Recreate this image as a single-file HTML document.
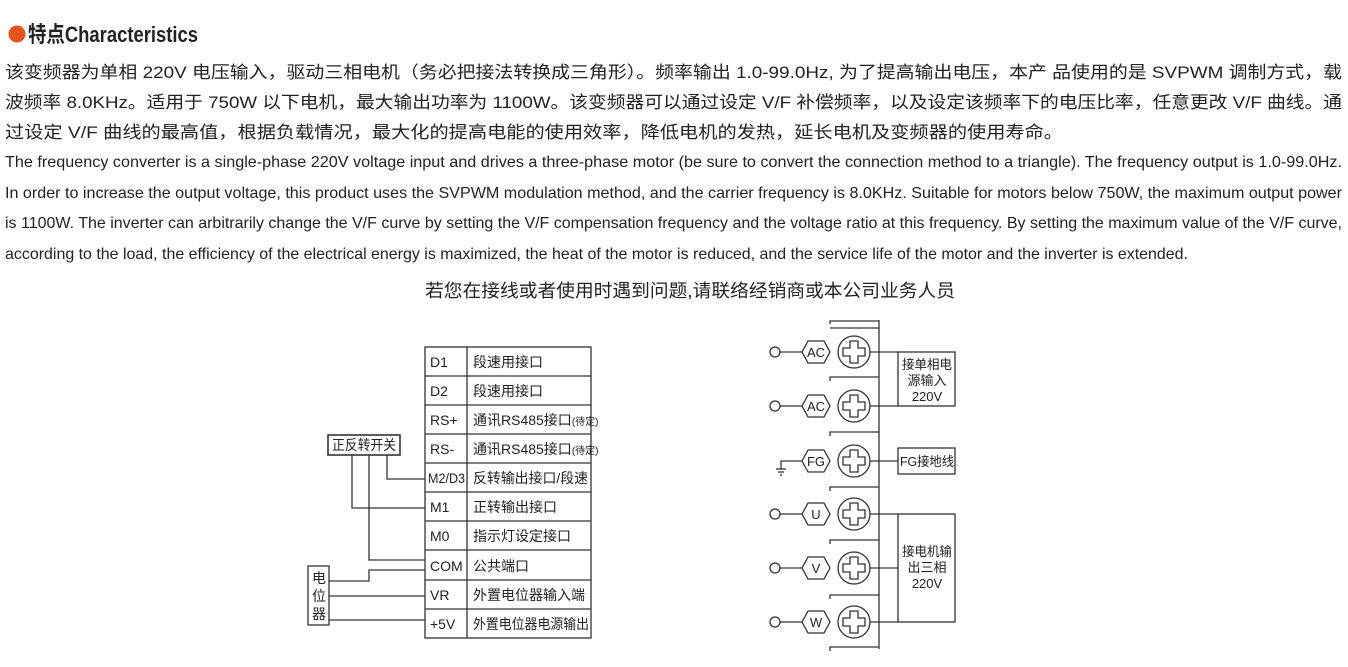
<!DOCTYPE html>
<html><head><meta charset="utf-8"><style>
html,body{margin:0;padding:0;background:#fff;width:1348px;height:667px;overflow:hidden}
svg{display:block}
.c{font-family:"Liberation Sans","Noto Sans CJK SC",sans-serif;fill:#222}
</style></head><body>
<svg width="1348" height="667" viewBox="0 0 1348 667" xmlns="http://www.w3.org/2000/svg">
<circle cx="17" cy="34" r="8.5" fill="#e8521c"/>
<text class="c" x="28" y="42" font-size="22" font-weight="bold" textLength="170" lengthAdjust="spacingAndGlyphs">特点Characteristics</text>
<g class="c" font-size="17">
<text x="5" y="78" textLength="1337" lengthAdjust="spacingAndGlyphs">该变频器为单相 220V 电压输入，驱动三相电机（务必把接法转换成三角形）。频率输出 1.0-99.0Hz, 为了提高输出电压，本产 品使用的是 SVPWM 调制方式，载</text>
<text x="5" y="108" textLength="1337" lengthAdjust="spacingAndGlyphs">波频率 8.0KHz。适用于 750W 以下电机，最大输出功率为 1100W。该变频器可以通过设定 V/F 补偿频率，以及设定该频率下的电压比率，任意更改 V/F 曲线。通</text>
<text x="5" y="138" textLength="1058" lengthAdjust="spacingAndGlyphs">过设定 V/F 曲线的最高值，根据负载情况，最大化的提高电能的使用效率，降低电机的发热，延长电机及变频器的使用寿命。</text>
</g>
<g class="c" font-size="16">
<text x="5" y="167" textLength="1337" lengthAdjust="spacingAndGlyphs">The frequency converter is a single-phase 220V voltage input and drives a three-phase motor (be sure to convert the connection method to a triangle). The frequency output is 1.0-99.0Hz.</text>
<text x="5" y="198" textLength="1337" lengthAdjust="spacingAndGlyphs">In order to increase the output voltage, this product uses the SVPWM modulation method, and the carrier frequency is 8.0KHz. Suitable for motors below 750W, the maximum output power</text>
<text x="5" y="228" textLength="1337" lengthAdjust="spacingAndGlyphs">is 1100W. The inverter can arbitrarily change the V/F curve by setting the V/F compensation frequency and the voltage ratio at this frequency. By setting the maximum value of the V/F curve,</text>
<text x="5" y="259" textLength="1183" lengthAdjust="spacingAndGlyphs">according to the load, the efficiency of the electrical energy is maximized, the heat of the motor is reduced, and the service life of the motor and the inverter is extended.</text>
</g>
<text class="c" x="425" y="297" font-size="18" textLength="530" lengthAdjust="spacingAndGlyphs">若您在接线或者使用时遇到问题,请联络经销商或本公司业务人员</text>

<!-- left table -->
<g stroke="#333" stroke-width="1.3" fill="none">
<rect x="425" y="347" width="166" height="291"/>
<line x1="467" y1="347" x2="467" y2="638"/>
<line x1="425" y1="376" x2="591" y2="376"/>
<line x1="425" y1="405" x2="591" y2="405"/>
<line x1="425" y1="434" x2="591" y2="434"/>
<line x1="425" y1="463" x2="591" y2="463"/>
<line x1="425" y1="492" x2="591" y2="492"/>
<line x1="425" y1="521" x2="591" y2="521"/>
<line x1="425" y1="550" x2="591" y2="550"/>
<line x1="425" y1="580" x2="591" y2="580"/>
<line x1="425" y1="609" x2="591" y2="609"/>
<rect x="328" y="435" width="72" height="20" stroke-width="1.6"/>
<rect x="308" y="566" width="21" height="59"/>
<polyline points="352,455 352,508 425,508"/>
<polyline points="369,455 369,560 425,560"/>
<polyline points="387,455 387,479 425,479"/>
<polyline points="329,581 369,581 369,570 425,570"/>
<line x1="329" y1="596" x2="425" y2="596"/>
<line x1="329" y1="620" x2="425" y2="620"/>
</g>
<g class="c" font-size="14">
<text x="430" y="367">D1</text><text x="473" y="367">段速用接口</text>
<text x="430" y="396">D2</text><text x="473" y="396">段速用接口</text>
<text x="430" y="425">RS+</text><text x="473" y="425">通讯RS485接口<tspan font-size="10">(待定)</tspan></text>
<text x="430" y="454">RS-</text><text x="473" y="454">通讯RS485接口<tspan font-size="10">(待定)</tspan></text>
<text x="428" y="483" textLength="37" lengthAdjust="spacingAndGlyphs">M2/D3</text><text x="473" y="483" textLength="115" lengthAdjust="spacingAndGlyphs">反转输出接口/段速</text>
<text x="430" y="512">M1</text><text x="473" y="512">正转输出接口</text>
<text x="430" y="541">M0</text><text x="473" y="541">指示灯设定接口</text>
<text x="430" y="571">COM</text><text x="473" y="571">公共端口</text>
<text x="430" y="600">VR</text><text x="473" y="600">外置电位器输入端</text>
<text x="430" y="629">+5V</text><text x="473" y="629" textLength="116" lengthAdjust="spacingAndGlyphs">外置电位器电源输出</text>
<text x="332" y="450" textLength="64" lengthAdjust="spacingAndGlyphs">正反转开关</text>
<text x="312" y="583">电</text><text x="312" y="601">位</text><text x="312" y="619">器</text>
</g>

<!-- right diagram -->
<g stroke="#333" stroke-width="1.3" fill="none">
<line x1="879" y1="320" x2="879" y2="649"/>
<polyline points="830,324 830,321 879,321"/>
<line x1="830" y1="328" x2="879" y2="328"/>
<polyline points="830,381 830,377 879,377"/>
<polyline points="830,436 830,432 879,432"/>
<polyline points="830,491 830,487 879,487"/>
<polyline points="830,544 830,540 879,540"/>
<polyline points="830,599 830,595 879,595"/>
<polyline points="830,651 830,647 879,647"/>
<!-- screws -->
<g>
<circle cx="854" cy="352" r="16"/><path d="M850,341h8v7h7v8h-7v7h-8v-7h-7v-8h7z"/>
<circle cx="854" cy="406" r="16"/><path d="M850,395h8v7h7v8h-7v7h-8v-7h-7v-8h7z"/>
<circle cx="854" cy="461" r="16"/><path d="M850,450h8v7h7v8h-7v7h-8v-7h-7v-8h7z"/>
<circle cx="854" cy="514" r="16"/><path d="M850,503h8v7h7v8h-7v7h-8v-7h-7v-8h7z"/>
<circle cx="854" cy="568" r="16"/><path d="M850,557h8v7h7v8h-7v7h-8v-7h-7v-8h7z"/>
<circle cx="854" cy="622" r="16"/><path d="M850,611h8v7h7v8h-7v7h-8v-7h-7v-8h7z"/>
</g>
<!-- hexes -->
<polygon points="802,352 808,341 824,341 830,352 824,363 808,363"/>
<polygon points="802,406 808,395 824,395 830,406 824,417 808,417"/>
<polygon points="802,461 808,450 824,450 830,461 824,472 808,472"/>
<polygon points="802,514 808,503 824,503 830,514 824,525 808,525"/>
<polygon points="802,568 808,557 824,557 830,568 824,579 808,579"/>
<polygon points="802,622 808,611 824,611 830,622 824,633 808,633"/>
<!-- terminals -->
<circle cx="775" cy="352" r="5"/><line x1="780" y1="352" x2="802" y2="352"/>
<circle cx="775" cy="406" r="5"/><line x1="780" y1="406" x2="802" y2="406"/>
<circle cx="775" cy="514" r="5"/><line x1="780" y1="514" x2="802" y2="514"/>
<circle cx="775" cy="568" r="5"/><line x1="780" y1="568" x2="802" y2="568"/>
<circle cx="775" cy="622" r="5"/><line x1="780" y1="622" x2="802" y2="622"/>
<polyline points="802,461 781,461 781,469"/>
<line x1="776" y1="469" x2="786" y2="469"/>
<line x1="778" y1="472" x2="784" y2="472"/>
<line x1="780" y1="475" x2="782" y2="475"/>
<!-- right boxes -->
<line x1="870" y1="352" x2="898" y2="352"/>
<line x1="870" y1="406" x2="898" y2="406"/>
<rect x="898" y="352" width="57" height="54"/>
<line x1="870" y1="461" x2="898" y2="461"/>
<rect x="898" y="448" width="57" height="26"/>
<line x1="870" y1="514" x2="898" y2="514"/>
<line x1="870" y1="568" x2="898" y2="568"/>
<line x1="870" y1="622" x2="898" y2="622"/>
<rect x="898" y="514" width="57" height="108"/>
</g>
<g class="c" font-size="13" text-anchor="middle">
<text x="816" y="357">AC</text><text x="816" y="411">AC</text>
<text x="816" y="466">FG</text><text x="816" y="519">U</text>
<text x="816" y="573">V</text><text x="816" y="627">W</text>
<text x="927" y="369" textLength="50" lengthAdjust="spacingAndGlyphs">接单相电</text>
<text x="927" y="385">源输入</text>
<text x="927" y="401">220V</text>
<text x="927" y="466" textLength="54" lengthAdjust="spacingAndGlyphs">FG接地线</text>
<text x="927" y="556" textLength="50" lengthAdjust="spacingAndGlyphs">接电机输</text>
<text x="927" y="572">出三相</text>
<text x="927" y="588">220V</text>
</g>
</svg>
</body></html>
